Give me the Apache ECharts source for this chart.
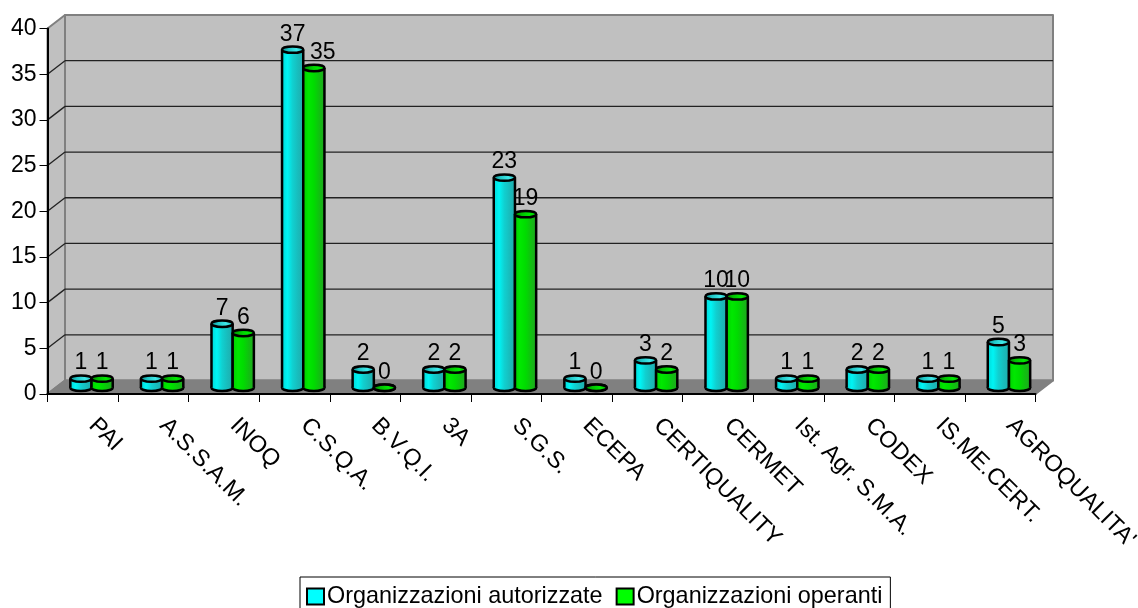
<!DOCTYPE html>
<html>
<head>
<meta charset="utf-8">
<style>html,body{margin:0;padding:0;background:#fff}#c{width:1138px;height:608px}</style>
<script src="https://cdn.jsdelivr.net/npm/echarts@6/dist/echarts.min.js"></script>
</head>
<body>
<div id="c"></div>
<script>
const categories = ['PAI','A.S.S.A.M.','INOQ','C.S.Q.A.','B.V.Q.I.','3A','S.G.S.','ECEPA','CERTIQUALITY','CERMET','Ist. Agr. S.M.A.','CODEX','IS.ME.CERT.',"AGROQUALITA'"];
const autorizzate = [1,1,7,37,2,2,23,1,3,10,1,2,1,5];
const operanti = [1,1,6,35,0,2,19,0,2,10,1,2,1,3];
const yTicks = [0,5,10,15,20,25,30,35,40];
const seriesNames = ['Organizzazioni autorizzate','Organizzazioni operanti'];

const FONT = '"Liberation Sans", Arial, sans-serif';
const FONT_SIZE = 23;
const LABEL_FONT_SIZE = 23.4;
const DEPTH_X = 17.5, DEPTH_Y = 13.5;
const BAR_W = 21.2, RY = 3.2;
const labelNudge = {'C.S.Q.A.|1': 9};

function grad(stops){
  return {type:'linear',x:0,y:0,x2:1,y2:0,colorStops:stops.map((c,i)=>({offset:i/(stops.length-1),color:c}))};
}
const palettes = [
  {legend:'#00FFFF', body:grad(['#00D8D8','#00F4F4','#10D0D0','#18BCBC','#20ACAC']), top:grad(['#109090','#20C8C8','#40E8E8','#20C0C0'])},
  {legend:'#00FF00', body:grad(['#00D000','#00E800','#00DC00','#10C010','#20A820']), top:grad(['#008800','#00C000','#00E800','#00C000'])}
];

function wallItem(params, api){
  const cs = params.coordSys;
  const L = cs.x, R = cs.x + cs.width, T = cs.y, B = cs.y + cs.height;
  const v = api.value(0);
  const children = [];
  if (params.dataIndex === 0) {
    const edge = {stroke:'#808080', lineWidth:2, lineJoin:'round'};
    children.push({type:'polygon',shape:{points:[[L+DEPTH_X,T-DEPTH_Y],[R+DEPTH_X,T-DEPTH_Y],[R+DEPTH_X,B-DEPTH_Y],[L+DEPTH_X,B-DEPTH_Y]]},style:Object.assign({fill:'#C0C0C0'},edge)});
    children.push({type:'polygon',shape:{points:[[L,B],[L,T],[L+DEPTH_X,T-DEPTH_Y],[L+DEPTH_X,B-DEPTH_Y]]},style:Object.assign({fill:'#C0C0C0'},edge)});
    children.push({type:'polygon',shape:{points:[[L,B],[L+DEPTH_X,B-DEPTH_Y],[R+DEPTH_X,B-DEPTH_Y],[R,B]]},style:Object.assign({fill:'#808080'},edge)});
  }
  const y = api.coord([0, v])[1];
  if (v > 0 && v < 40) {
    children.push({type:'line',shape:{x1:L+DEPTH_X,y1:y-DEPTH_Y,x2:R+DEPTH_X,y2:y-DEPTH_Y},style:{stroke:'#222',lineWidth:1.3}});
    children.push({type:'line',shape:{x1:L,y1:y,x2:L+DEPTH_X,y2:y-DEPTH_Y},style:{stroke:'#222',lineWidth:1.3}});
  }
  return {type:'group',children};
}

function cylinder(seriesIdx){
  return function(params, api){
    const cat = api.value(0), val = api.value(1);
    const p = api.coord([cat, val]);
    const p0 = api.coord([cat, 0]);
    const pal = palettes[seriesIdx];
    const cx = p[0] + DEPTH_X/2 + (seriesIdx === 0 ? -1 : 1) * BAR_W/2;
    const topY = p[1] - DEPTH_Y/2 + 0.5, baseY = p0[1] - DEPTH_Y/2 + 0.5;
    const rx = BAR_W/2;
    const stroke = {stroke:'#000', lineWidth:2.5};
    const kids = [
      {type:'ellipse',shape:{cx,cy:baseY,rx,ry:RY},style:Object.assign({fill:pal.body},stroke)},
      {type:'rect',shape:{x:cx-rx,y:topY,width:BAR_W,height:Math.max(0,baseY-topY)},style:{fill:pal.body}},
      {type:'line',shape:{x1:cx-rx,y1:topY,x2:cx-rx,y2:baseY},style:stroke},
      {type:'line',shape:{x1:cx+rx,y1:topY,x2:cx+rx,y2:baseY},style:stroke},
      {type:'ellipse',shape:{cx,cy:topY,rx,ry:RY},style:Object.assign({fill:pal.top},stroke)}
    ];
    const nudge = labelNudge[categories[cat] + '|' + seriesIdx] || 0;
    kids.push({type:'text',z2:50,style:{x:cx+nudge,y:topY-15.5,text:String(val),textAlign:'center',textVerticalAlign:'middle',align:'center',verticalAlign:'middle',fill:'#000',font:FONT_SIZE+'px '+FONT}});
    return {type:'group',children:kids};
  };
}

const chart = echarts.init(document.getElementById('c'), null, {renderer:'canvas'});
chart.setOption({
  animation:false,
  backgroundColor:'#fff',
  textStyle:{fontFamily:FONT},
  grid:{left:47.5,right:102.5,top:28.5,bottom:214,containLabel:false,outerBoundsMode:'none'},
  legend:{
    data:seriesNames,
    selectedMode:false,
    left:300,top:577,
    padding:[8,8,8,6],
    backgroundColor:'#fff',borderColor:'#000',borderWidth:1,
    icon:'rect',itemWidth:17,itemHeight:16,itemGap:13,
    itemStyle:{borderColor:'#000',borderWidth:2},
    textStyle:{fontFamily:FONT,fontSize:LABEL_FONT_SIZE,color:'#000',padding:[0,0,0,-2]}
  },
  xAxis:{
    type:'category',data:categories,boundaryGap:true,
    axisLine:{lineStyle:{color:'#000',width:2},onZero:false},
    axisTick:{show:true,length:8,alignWithLabel:false,lineStyle:{color:'#000',width:1}},
    axisLabel:{interval:0,rotate:-45,margin:18,padding:[0,0,0,14],color:'#000',fontFamily:FONT,fontSize:LABEL_FONT_SIZE,hideOverlap:false},
    splitLine:{show:false}
  },
  yAxis:{
    type:'value',min:0,max:40,interval:5,
    axisLine:{show:true,lineStyle:{color:'#000',width:2}},
    axisTick:{show:true,length:8,lineStyle:{color:'#000',width:1}},
    axisLabel:{margin:11,color:'#000',fontFamily:FONT,fontSize:FONT_SIZE},
    splitLine:{show:false}
  },
  series:[
    {type:'custom',name:'wall',silent:true,z:-1,clip:false,encode:{y:0},data:yTicks.map(v=>[v]),renderItem:wallItem},
    {type:'custom',name:seriesNames[0],silent:true,z:3,color:palettes[0].legend,itemStyle:{color:palettes[0].legend},encode:{x:0,y:1},data:autorizzate.map((v,i)=>[i,v]),renderItem:cylinder(0)},
    {type:'custom',name:seriesNames[1],silent:true,z:4,color:palettes[1].legend,itemStyle:{color:palettes[1].legend},encode:{x:0,y:1},data:operanti.map((v,i)=>[i,v]),renderItem:cylinder(1)}
  ]
});
</script>
</body>
</html>
